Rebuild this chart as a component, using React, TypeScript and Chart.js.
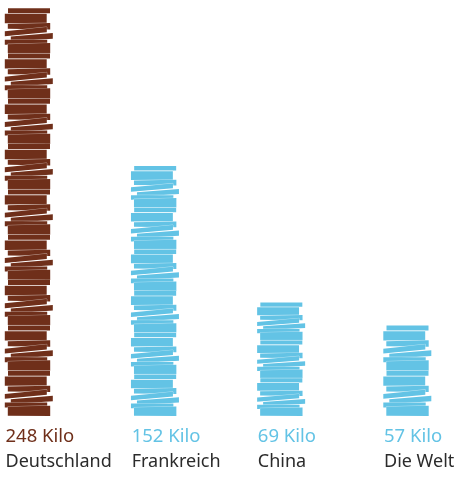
import React, { useEffect, useRef } from "react";
import { Chart, registerables } from "chart.js";

Chart.register(...registerables);

const countries = ["Deutschland", "Frankreich", "China", "Die Welt"];
const kilos = [248, 152, 69, 57];
const valueLabels = ["248 Kilo", "152 Kilo", "69 Kilo", "57 Kilo"];
const layerCounts = [9, 6, 3, 2];
const barColors = ["#6f2f1a", "#63c3e5", "#63c3e5", "#63c3e5"];

const FONT = "'Noto Sans', sans-serif";
const MAX_CYCLE = 45.33;
// One repeating layer of the stack: x0, x1, left top/bottom, right top/bottom (px at MAX_CYCLE scale)
const SLABS = [
  [2.5, 44.5, 0.1, 5.1, 0.1, 5.1],
  [-0.7, 41.2, 5.8, 15.2, 5.8, 15.2],
  [2.3, 44.7, 15.8, 20.8, 15, 21.4],
  [-0.7, 41.3, 23.3, 28.2, 19, 24.2],
  [5.3, 47.3, 28.5, 33.4, 25, 30.6],
  [-0.7, 41.7, 31.8, 36.8, 31.8, 36.8],
  [2.3, 44.7, 36.1, 45.1, 35, 45.3],
];

const stackPlugin = {
  id: "bookStacks",
  beforeDatasetDraw(chart: any, args: any) {
    const { ctx } = chart;
    const meta = args.meta;
    meta.data.forEach((bar: any, i: number) => {
      const cycle = Math.min(MAX_CYCLE, (bar.base - bar.y) / layerCounts[i]);
      const k = cycle / MAX_CYCLE;
      ctx.save();
      ctx.fillStyle = bar.options.backgroundColor;
      ctx.strokeStyle = "rgba(255,255,255,0.65)";
      ctx.lineWidth = 0.8;
      ctx.lineJoin = "miter";
      for (let c = layerCounts[i] - 1; c >= 0; c--) {
        const top = bar.base - cycle * (c + 1);
        SLABS.forEach(([x0, x1, lt, lb, rt, rb]) => {
          ctx.beginPath();
          ctx.moveTo(bar.x + x0, top + lt * k);
          ctx.lineTo(bar.x + x1, top + rt * k);
          ctx.lineTo(bar.x + x1, top + rb * k);
          ctx.lineTo(bar.x + x0, top + lb * k);
          ctx.closePath();
          ctx.stroke();
          ctx.fill();
        });
      }
      ctx.restore();
    });
    return false;
  },
};

export default function App() {
  const ref = useRef<HTMLCanvasElement>(null);
  useEffect(() => {
    document.body.style.margin = "0";
    const chart = new Chart(ref.current!, {
      type: "bar",
      data: {
        labels: countries,
        datasets: [{ data: kilos, backgroundColor: barColors, borderWidth: 0 }],
      },
      plugins: [stackPlugin],
      options: {
        responsive: false,
        animation: false,
        events: [],
        layout: { padding: { left: 5.5, right: 74, top: 8, bottom: 7 } },
        plugins: { legend: { display: false }, tooltip: { enabled: false } },
        scales: {
          y: { display: false, min: 0, max: 248 },
          xValue: {
            type: "category",
            labels: valueLabels,
            position: "bottom",
            offset: false,
            weight: 0,
            grid: { display: false },
            border: { display: false },
            afterFit: (s: any) => { s.height = 27; },
            ticks: {
              align: "start",
              autoSkip: false,
              maxRotation: 0,
              minRotation: 0,
              padding: 2,
              color: barColors,
              font: { family: FONT, size: 18.5 },
            },
          },
          x: {
            position: "bottom",
            offset: false,
            weight: 1,
            grid: { display: false },
            border: { display: false },
            afterFit: (s: any) => { s.height = 27; },
            ticks: {
              align: "start",
              autoSkip: false,
              maxRotation: 0,
              minRotation: 0,
              padding: 0,
              color: "#2b2b2b",
              font: { family: FONT, size: 18 },
            },
          },
        } as any,
      },
    });
    return () => chart.destroy();
  }, []);
  return <canvas ref={ref} width={458} height={477} style={{ display: "block" }} />;
}
